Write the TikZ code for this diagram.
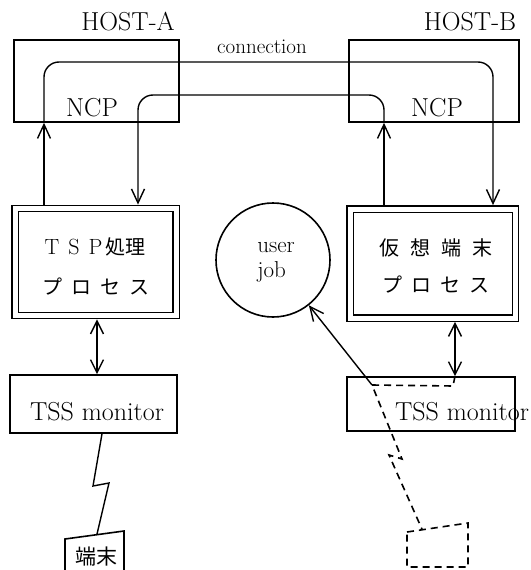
\documentclass[tikz,border=0pt]{standalone}
\usepackage{fontspec}
\newfontfamily\jp{Noto Sans CJK JP}
\usetikzlibrary{arrows.meta,calc}
\newcommand{\jsp}{\hspace{9pt}}
\begin{document}
\begin{tikzpicture}[x=1pt,y=-1pt,
  box/.style={draw,line width=1.6pt,inner sep=0pt},
  dbox/.style={draw,line width=1.4pt,double,double distance=5pt,inner sep=0pt,outer sep=3.9pt},
  conn/.style={line width=1.4pt},
  tip/.style={-{Straight Barb[length=14pt,width=13pt,line width=1.4pt]}},
  tips/.style={{Straight Barb[length=13pt,width=13pt,line width=1.4pt]}-{Straight Barb[length=13pt,width=13pt,line width=1.4pt]}},
  dashline/.style={line width=1.6pt,dash pattern=on 7pt off 5pt},
  big/.style={font=\fontsize{26}{30}\selectfont},
  mid/.style={font=\fontsize{23}{25}\selectfont},
  small/.style={font=\fontsize{21}{24}\selectfont},
  jtext/.style={font=\fontsize{20}{24}\selectfont\jp},
]
\useasboundingbox (0,0) rectangle (530,570);

% hosts
\node[box,minimum width=165pt,minimum height=82pt] (hostA) at (96.5,81) {};
\node[box,minimum width=170pt,minimum height=82pt] (hostB) at (434,81) {};
\node[big] (hostAlbl) at (128,22) {HOST-A};
\node[big] (hostBlbl) at (470,22) {HOST-B};
\node[big] (ncpA) at (92,108) {NCP};
\node[big] (ncpB) at (437,108) {NCP};
\node[small] (connlbl) at (262,47) {connection};

% processes
\node[dbox,minimum width=161pt,minimum height=107pt] (tspA) at (95.5,262) {};
\node[dbox,minimum width=165.5pt,minimum height=109pt] (tspB) at (432.75,263.5) {};
\node[font=\fontsize{22}{24}\selectfont] (tspAl1) at (95,247) {T\jsp S\jsp P\hspace{3pt}{\fontsize{20}{24}\selectfont\jp 処理}};
\node[jtext] (tspAl2) at (96,287) {プ\jsp ロ\jsp セ\jsp ス};
\node[jtext] (tspBl1) at (436,248) {仮\hspace{11pt}想\hspace{11pt}端\hspace{11pt}末};
\node[jtext] (tspBl2) at (436,285) {プ\jsp ロ\jsp セ\jsp ス};

% user job
\node[draw,circle,line width=1.6pt,minimum size=114pt,inner sep=0pt] (job) at (273,260) {};
\node[mid,align=left,anchor=center] (jobtext) at (276,262) {user\\job};

% monitors
\node[box,minimum width=167pt,minimum height=58pt] (tssA) at (93.5,404) {};
\node[box,minimum width=168pt,minimum height=54pt] (tssB) at (431,404) {};
\node[big] (tssAl) at (97,412) {TSS monitor};
\node[big] (tssBl) at (462,412) {TSS monitor};

% terminals
\coordinate (tA1) at (65,539);
\coordinate (tA2) at (124,531);
\draw[line width=1.6pt] (65,575) -- (tA1) -- (tA2) -- (124,575);
\node[font=\fontsize{21}{24}\selectfont\jp] (termA) at (96,557) {端末};
\coordinate (tAin) at ($(tA1)!0.54!(tA2)$);

\coordinate (tB1) at (407,532);
\coordinate (tB2) at (468,523);
\draw[dashline] (tB1) -- (tB2) -- (468,567) -- (407,567) -- cycle;
\coordinate (tBin) at ($(tB1)!0.25!(tB2)$);

% connection lines through the NCPs
\coordinate (ua) at (44,62);
\coordinate (ub) at (493,62);
\coordinate (la) at (138,95);
\coordinate (lb) at (384,95);
\draw[conn,tip] (tspA.north -| ua) -- (hostA.south -| ua);
\draw[conn,tip,rounded corners=15pt] (hostA.south -| ua) -- (ua) -- (ub) -- (tspB.north -| ub);
\draw[conn,tip] (tspB.north -| lb) -- (hostB.south -| lb);
\draw[conn,tip,rounded corners=15pt] (hostB.south -| lb) -- (lb) -- (la) -- (tspA.north -| la);

% process <-> monitor
\coordinate (da) at (97,0);
\coordinate (db) at (455,0);
\draw[conn,tips] (tspA.south -| da) -- (tssA.north -| da);
\draw[conn,tips] (tspB.south -| db) -- (tssB.north -| db);

% line to terminal A
\coordinate (zA0) at (102,0);
\coordinate (zA1) at (93,486);
\coordinate (zA2) at (109,483);
\draw[conn] (tssA.south -| zA0) -- (zA1) -- (zA2) -- (tAin);

% path of the user job
\coordinate (jc) at (372,385);
\coordinate (jr) at (453,386);
\coordinate (zB1) at (402,459);
\coordinate (zB2) at (389,455);
\draw[conn,tip] (jc) -- (job);
\draw[dashline] (tssB.north -| db) -- (jr) -- (jc) -- (zB1) -- (zB2) -- (tBin);
\end{tikzpicture}
\end{document}
